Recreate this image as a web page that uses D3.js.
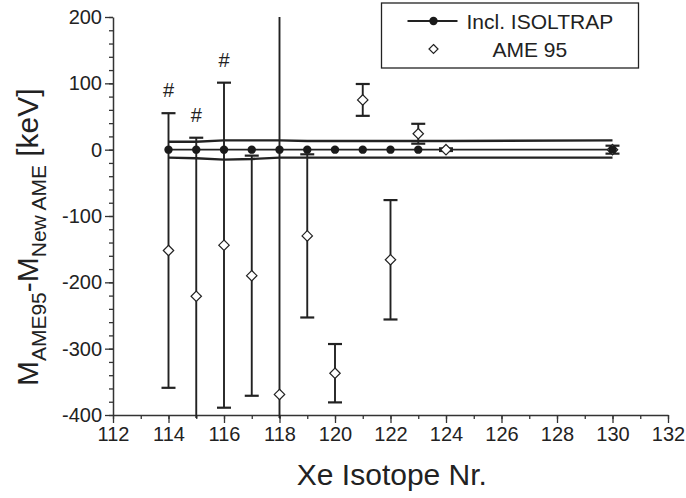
<!DOCTYPE html>
<html lang="en">
    <head>
        <meta charset="utf-8">
        <title>Xe isotopes</title>
        <script src="https://d3js.org/d3.v7.min.js"></script>
        <style>
            body { margin: 0; background: #fff; }
            text { font-family: "Liberation Sans", Arial, sans-serif; fill: #222; }
        </style>
    </head>
    <body>
        <div id="dataviz"></div>
        <script>
            // AME 95 differences (keV) and their errors
            var isotopes = [114, 115, 116, 117, 118, 119, 120, 121, 122, 123, 124, 130];
            var ame95 = [-152, -221, -144, -190, -369, -130, -337, 75, -166, 24, 0, 0];
            var ame95Err = [207, 239, 245, 181, 600, 123, 44, 24, 90, 15, 2, 6];

            // new AME incl. ISOLTRAP (reference, always 0) and its error band
            var isoltrapX = [114, 115, 116, 117, 118, 119, 120, 121, 122, 123, 130];
            var isoltrapY = [0, 0, 0, 0, 0, 0, 0, 0, 0, 0, 0];
            var bandX = [114, 115, 116, 117, 118, 119, 120, 121, 122, 123, 124, 130];
            var bandUpper = [12, 12, 14, 14, 14, 13, 13, 13, 13, 13, 13, 14];
            var bandLower = [-12, -13, -15, -14, -12, -12, -12, -12, -12, -12, -12, -12];

            // isotopes flagged with #
            var flagged = [114, 115, 116];

            var xTicks = d3.range(112, 133, 2);
            var yTicks = d3.range(-400, 201, 100);

            var margin = {top: 17, right: 18, bottom: 83, left: 113},
                width = 686 - margin.left - margin.right,
                height = 498 - margin.top - margin.bottom;

            var svg = d3.select("#dataviz")
                        .append("svg")
                        .attr("width", 686)
                        .attr("height", 498)
                        .append("g")
                        .attr("transform", "translate(" + margin.left + "," + margin.top + ")");

            var x = d3.scaleLinear().domain([112, 132]).range([0, width]);
            var y = d3.scaleLinear().domain([-400, 200]).range([height, 0]);

            svg.append("clipPath").attr("id", "clip")
                .append("rect").attr("width", width).attr("height", height + 3);

            // minor ticks
            svg.append("g")
                .attr("transform", "translate(0," + height + ")")
                .call(d3.axisBottom(x).tickValues(d3.range(112, 133, 1)).tickSize(4).tickFormat(""))
                .call(g => g.select(".domain").remove());
            svg.append("g")
                .call(d3.axisLeft(y).tickValues(d3.range(-400, 201, 20)).tickSize(4).tickFormat(""))
                .call(g => g.select(".domain").remove());

            svg.append("g")
                .attr("transform", "translate(0," + height + ")")
                .call(d3.axisBottom(x).tickValues(xTicks).tickSize(8).tickSizeOuter(0).tickPadding(4)
                    .tickFormat(d => String(d)));
            svg.append("g")
                .call(d3.axisLeft(y).tickValues(yTicks).tickSize(8).tickSizeOuter(0).tickPadding(3)
                    .tickFormat(d => String(d)));

            svg.selectAll(".tick line").attr("stroke", "#333").attr("stroke-width", 1.3);
            svg.selectAll(".domain").attr("stroke", "#333").attr("stroke-width", 1.5);
            svg.selectAll(".tick text").style("font-size", "20px").attr("fill", "#222");

            var plot = svg.append("g").attr("clip-path", "url(#clip)");

            // error band lines
            var bandLine = d3.line().x(d => x(d[0])).y(d => y(d[1]));
            plot.append("path")
                .datum(bandX.map((v, i) => [v, bandUpper[i]]))
                .attr("d", bandLine).attr("fill", "none").attr("stroke", "#222").attr("stroke-width", 2.4);
            plot.append("path")
                .datum(bandX.map((v, i) => [v, bandLower[i]]))
                .attr("d", bandLine).attr("fill", "none").attr("stroke", "#222").attr("stroke-width", 2.4);

            // AME95 error bars
            var ame = isotopes.map((v, i) => ({x: v, y: ame95[i], e: ame95Err[i]}));
            var bars = plot.selectAll(".bar").data(ame).enter().append("g");
            bars.append("line")
                .attr("x1", d => x(d.x)).attr("x2", d => x(d.x))
                .attr("y1", d => y(d.y - d.e)).attr("y2", d => y(d.y + d.e))
                .attr("stroke", "#222").attr("stroke-width", 1.9);
            [1, -1].forEach(function(s) {
                bars.append("line")
                    .attr("x1", d => x(d.x) - 7).attr("x2", d => x(d.x) + 7)
                    .attr("y1", d => y(d.y + s * d.e)).attr("y2", d => y(d.y + s * d.e))
                    .attr("stroke", "#222").attr("stroke-width", 2.2);
            });

            // ISOLTRAP line and points
            plot.append("path")
                .datum(isoltrapX.map((v, i) => [v, isoltrapY[i]]))
                .attr("d", bandLine).attr("fill", "none").attr("stroke", "#222").attr("stroke-width", 1.8);

            var diamond = "M0,-5.2L5.2,0L0,5.2L-5.2,0Z";
            plot.selectAll(".dia").data(ame).enter().append("path")
                .attr("d", diamond)
                .attr("transform", d => "translate(" + x(d.x) + "," + y(d.y) + ")")
                .attr("fill", "#fff").attr("stroke", "#222").attr("stroke-width", 1.2);

            plot.selectAll(".dot").data(isoltrapX).enter().append("circle")
                .attr("cx", d => x(d)).attr("cy", (d, i) => y(isoltrapY[i]))
                .attr("r", 4.2).attr("fill", "#1a1a1a");

            // # flags above the upper caps
            svg.selectAll(".flag").data(flagged).enter().append("text")
                .attr("x", d => x(d))
                .attr("y", function(d) { var i = isotopes.indexOf(d); return y(ame95[i] + ame95Err[i]) - 16; })
                .attr("text-anchor", "middle")
                .style("font-size", "20px")
                .text("#");

            // axis titles
            svg.append("text")
                .attr("x", x(122.05)).attr("y", height + 70)
                .attr("text-anchor", "middle")
                .style("font-size", "30px")
                .text("Xe Isotope Nr.");

            var yt = svg.append("text")
                .attr("transform", "translate(" + (-75) + "," + (y(-132)) + ") rotate(-90)")
                .attr("text-anchor", "middle")
                .style("font-size", "30px");
            yt.append("tspan").text("M");
            yt.append("tspan").attr("dy", 8).style("font-size", "21px").text("AME95");
            yt.append("tspan").attr("dy", -8).text("-M");
            yt.append("tspan").attr("dy", 8).style("font-size", "21px").text("New AME");
            yt.append("tspan").attr("dy", -8).text(" [keV]");

            // legend
            var lg = svg.append("g").attr("transform", "translate(" + (381.5 - margin.left) + "," + (3 - margin.top) + ")");
            lg.append("rect").attr("width", 257).attr("height", 65)
                .attr("fill", "#fff").attr("stroke", "#222").attr("stroke-width", 1.3);
            lg.append("line").attr("x1", 26).attr("x2", 76).attr("y1", 18).attr("y2", 18)
                .attr("stroke", "#222").attr("stroke-width", 1.8);
            lg.append("circle").attr("cx", 52).attr("cy", 18).attr("r", 4.2).attr("fill", "#1a1a1a");
            lg.append("text").attr("x", 85).attr("y", 26).style("font-size", "21px").text("Incl. ISOLTRAP");
            lg.append("path").attr("d", "M0,-4.5L4.5,0L0,4.5L-4.5,0Z")
                .attr("transform", "translate(52,46)")
                .attr("fill", "#fff").attr("stroke", "#222").attr("stroke-width", 1.2);
            lg.append("text").attr("x", 111).attr("y", 54).style("font-size", "21px").text("AME 95");
        </script>
    </body>
</html>
